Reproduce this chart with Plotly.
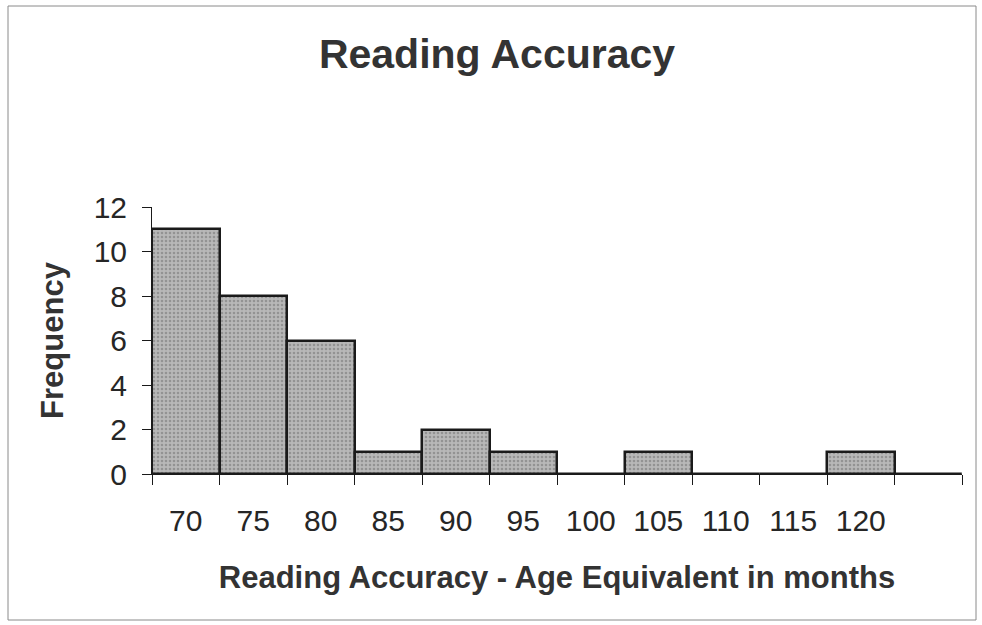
"""Reading Accuracy histogram."""

import plotly.graph_objects as go

# bins (months) and counts; last bin is the unlabeled overflow
age_bins = ["70", "75", "80", "85", "90", "95", "100", "105", "110", "115", "120", " "]
frequency = [11, 8, 6, 1, 2, 1, 0, 1, 0, 0, 1, 0]
y_ticks = [0, 2, 4, 6, 8, 10, 12]

FONT = "Liberation Sans, Arial, sans-serif"
INK = "#262626"

# plot area in pixels: x 152..962, y 207..474
L, R, T, B = 152, 962, 207, 474
W, H = 982, 625

fig = go.Figure(
    go.Bar(
        x=age_bins,
        y=frequency,
        marker=dict(
            color="#b8b8b8",
            line=dict(color="#1a1a1a", width=2.5),
            pattern=dict(shape=".", fgcolor="#6e6e6e", size=4, solidity=0.35),
        ),
        showlegend=False,
    )
)

fig.update_layout(
    width=W,
    height=H,
    paper_bgcolor="#ffffff",
    plot_bgcolor="#ffffff",
    bargap=0,
    margin=dict(l=L, r=W - R, t=T, b=H - B),
    font=dict(family=FONT, color=INK),
    title=dict(
        text="<b>Reading Accuracy</b>",
        x=497 / W,
        xanchor="center",
        y=1 - 54 / H,
        yanchor="middle",
        yref="container",
        font=dict(size=41, color="#333333"),
    ),
    shapes=[
        dict(
            type="rect",
            xref="paper",
            yref="paper",
            x0=(8 - L) / (R - L),
            x1=(976 - L) / (R - L),
            y0=(B - 620) / (B - T),
            y1=(B - 6) / (B - T),
            line=dict(color="#8a8a8a", width=1),
            layer="below",
        )
    ],
)

fig.update_xaxes(
    type="category",
    tickson="boundaries",
    ticks="outside",
    ticklen=10,
    tickcolor="#1a1a1a",
    showline=True,
    linecolor="#1a1a1a",
    linewidth=1,
    showgrid=False,
    ticklabelstandoff=20,
    tickfont=dict(size=30, color=INK),
    title=dict(
        text="<b>Reading Accuracy - Age Equivalent in months</b>",
        font=dict(size=31, color="#333333"),
        standoff=30,
    ),
)

fig.update_yaxes(
    range=[0, 12],
    tickvals=y_ticks,
    ticks="outside",
    ticklen=9,
    tickcolor="#1a1a1a",
    showline=True,
    linecolor="#1a1a1a",
    linewidth=1,
    showgrid=False,
    zeroline=False,
    ticklabelstandoff=9,
    tickfont=dict(size=30, color=INK),
    title=dict(
        text="<b>Frequency</b>",
        font=dict(size=31, color="#333333"),
        standoff=20,
    ),
)

# the page body has an 8px default margin; drop it so the figure sits at 0,0
fig.write_html(
    "out.html",
    config={"displayModeBar": False},
    post_script="document.body.style.margin='0';",
)
